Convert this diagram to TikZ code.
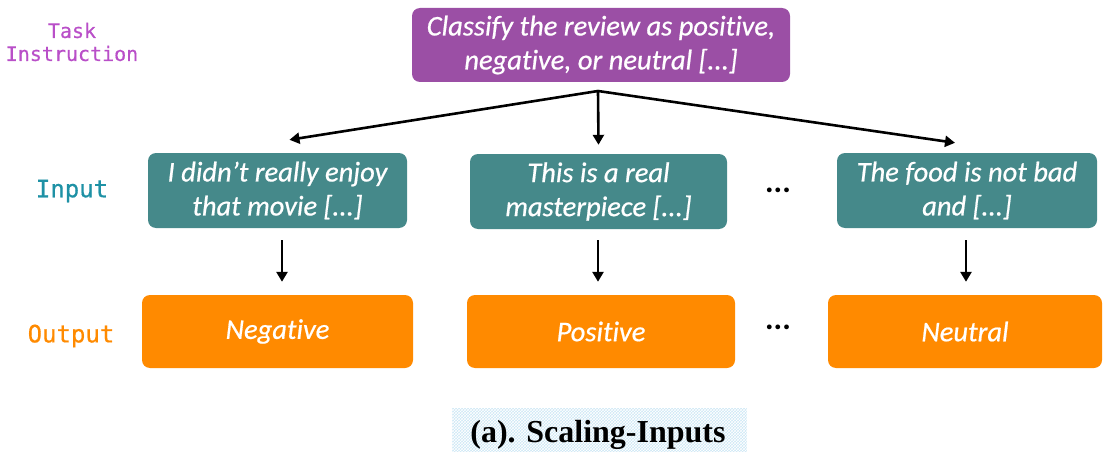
\documentclass[tikz,border=0pt]{standalone}
\usepackage{fontspec}
\setmainfont[RawFeature=-liga]{Carlito}
\newfontfamily\boxf[RawFeature=-liga, FakeBold=0.6]{Carlito}
\newfontfamily\monof[FakeBold=0.5]{DejaVu Sans Mono}
\newfontfamily\timesf{Liberation Serif}
\usetikzlibrary{arrows.meta,patterns}
\definecolor{taskpurple}{RGB}{155,79,165}
\definecolor{taskpurplelbl}{RGB}{185,79,200}
\definecolor{inputteal}{RGB}{69,137,138}
\definecolor{inputlbl}{RGB}{30,145,165}
\definecolor{outorange}{RGB}{255,138,0}
\definecolor{capblue}{RGB}{205,232,245}
\tikzset{
  boxbase/.style={rounded corners=8pt, align=center, text=white,
    font=\boxf\fontsize{28.5}{34}\selectfont\itshape, inner sep=0pt},
  taskbox/.style={boxbase, fill=taskpurple, minimum width=378pt, minimum height=74pt},
  inbox/.style={boxbase, fill=inputteal, minimum width=259pt, minimum height=75pt},
  outbox/.style={boxbase, fill=outorange, minimum width=271pt, minimum height=73pt},
  lbl/.style={font=\monof\fontsize{24}{26}\selectfont, align=center},
  arr/.style={line width=2.6pt, -{Triangle[length=10pt,width=11pt]}},
  dots/.style={font=\fontsize{32}{32}\selectfont\bfseries},
}
\begin{document}
\begin{tikzpicture}[x=1pt,y=-1pt]
\useasboundingbox (0,0) rectangle (1104,452);
% task
\node[taskbox] (task) at (601,45) {Classify the review as positive,\\negative, or neutral [...]};
\node[lbl, text=taskpurplelbl, font=\monof\fontsize{20}{23}\selectfont] (tasklbl) at (72,42) {Task\\Instruction};
% inputs
\node[inbox] (in1) at (277.5,190.5) {I didn’t really enjoy\\that movie [...]};
\node[inbox, minimum width=257pt] (in2) at (598.5,191.5) {This is a real\\masterpiece [...]};
\node[inbox, minimum width=260pt] (in3) at (967,190.5) {The food is not bad\\and [...]};
\node[lbl, text=inputlbl] (inlbl) at (72,191) {Input};
% outputs
\node[outbox] (out1) at (277.5,331.5) {Negative};
\node[outbox, minimum width=268pt] (out2) at (601,331.5) {Positive};
\node[outbox, minimum width=274pt] (out3) at (965,331.5) {Neutral};
\node[lbl, text=outorange] (outlbl) at (71,336) {Output};
% dots
\node[dots] (d1) at (778,190) {...};
\node[dots] (d2) at (778,327) {...};
% arrows
\coordinate (hub) at (598,91);
\draw[arr] (hub) -- ([shift={(12,-13)}]in1.north);
\draw[arr] (hub) -- ([shift={(0,-9)}]in2.north);
\draw[arr] (hub) -- ([shift={(-12,-10)}]in3.north);
\draw[arr, shorten <=12pt, shorten >=13pt] ([xshift=4.5pt]in1.south) -- ([xshift=4.5pt]in1.south |- out1.north);
\draw[arr, shorten <=11pt, shorten >=13pt] ([xshift=-0.5pt]in2.south) -- ([xshift=-0.5pt]in2.south |- out2.north);
\draw[arr, shorten <=12pt, shorten >=13pt] ([xshift=-1pt]in3.south) -- ([xshift=-1pt]in3.south |- out3.north);
% caption
\fill[capblue] (452,408) rectangle (747,452);
\fill[pattern=crosshatch, pattern color=white] (452,408) rectangle (747,452);
\node[font=\timesf\bfseries\fontsize{32}{34}\selectfont] (cap) at (598,435) {(a). Scaling-Inputs};
\end{tikzpicture}
\end{document}
